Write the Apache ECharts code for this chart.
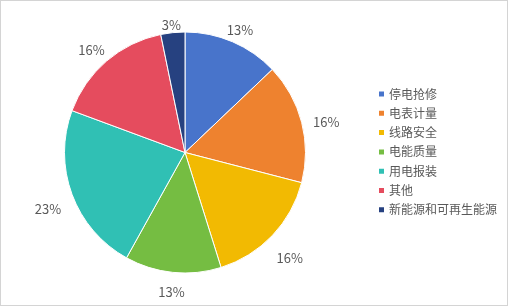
<!DOCTYPE html>
<html>
<head>
<meta charset="utf-8">
<script src="https://cdn.jsdelivr.net/npm/echarts@6/dist/echarts.min.js"></script>
<style>
html,body{margin:0;padding:0;background:#fff;}
#chart{position:absolute;left:0;top:0;width:508px;height:306px;}
#frame{position:absolute;left:0;top:0;width:508px;height:306px;box-sizing:border-box;border:1px solid #D4D4D4;pointer-events:none;}
</style>
</head>
<body>
<div id="chart"></div>
<div id="frame"></div>
<script>
const categories = ['停电抢修', '电表计量', '线路安全', '电能质量', '用电报装', '其他', '新能源和可再生能源'];
const values = [4, 5, 5, 4, 7, 5, 1];
const colors = ['#4874CB', '#EE822F', '#F2BA02', '#75BD42', '#30C0B4', '#E54C5E', '#264180'];

const CX = 185, CY = 152.5, R = 120.5;
const LABEL_DIST = 126;   // nearest edge of the label box from the pie centre
const PAD_X = 5.5, HALF_H = 7.5, TEXT_SHIFT = 6;
const FONT = '"Noto Sans CJK SC", "Microsoft YaHei", sans-serif';
const total = values.reduce((a, b) => a + b, 0);

function boxDist(t, s, c, hw, hh) {
  const px = Math.abs(t * s), py = Math.abs(t * c);
  const dx = Math.max(px - hw, 0), dy = Math.max(py - hh, 0);
  return Math.sqrt(dx * dx + dy * dy);
}

const chart = echarts.init(document.getElementById('chart'), null, { renderer: 'canvas' });
chart.setOption({
  animation: false,
  backgroundColor: '#fff',
  color: colors,
  legend: {
    orient: 'vertical',
    left: 377,
    top: 88,
    padding: 0,
    itemWidth: 7,
    itemHeight: 7,
    itemGap: 7.3,
    icon: 'rect',
    data: categories,
    textStyle: { color: '#595959', fontSize: 12, fontFamily: FONT, padding: [0, 0, 0, -1] }
  },
  series: [{
    type: 'pie',
    center: [CX, CY],
    radius: R,
    startAngle: 90,
    clockwise: true,
    avoidLabelOverlap: false,
    itemStyle: { borderColor: '#fff', borderWidth: 1 },
    label: {
      show: true,
      position: 'outside',
      color: '#595959',
      fontSize: 13,
      fontFamily: FONT,
      formatter: p => Math.round(p.percent) + '%'
    },
    labelLine: { show: false },
    labelLayout: function (params) {
      const i = params.dataIndex;
      let cum = 0;
      for (let k = 0; k < i; k++) cum += values[k];
      const mid = (cum + values[i] / 2) / total * Math.PI * 2;
      const s = Math.sin(mid), c = Math.cos(mid);
      const hw = params.labelRect.width / 2 + PAD_X, hh = HALF_H;
      let lo = 0, hi = 400;
      for (let n = 0; n < 60; n++) {
        const m = (lo + hi) / 2;
        if (boxDist(m, s, c, hw, hh) < LABEL_DIST) lo = m; else hi = m;
      }
      const t = (lo + hi) / 2;
      return { x: CX + s * t, y: CY - c * t + TEXT_SHIFT, align: 'center', verticalAlign: 'middle' };
    },
    emphasis: { disabled: true },
    data: categories.map((n, i) => ({ name: n, value: values[i] }))
  }]
});
</script>
</body>
</html>
